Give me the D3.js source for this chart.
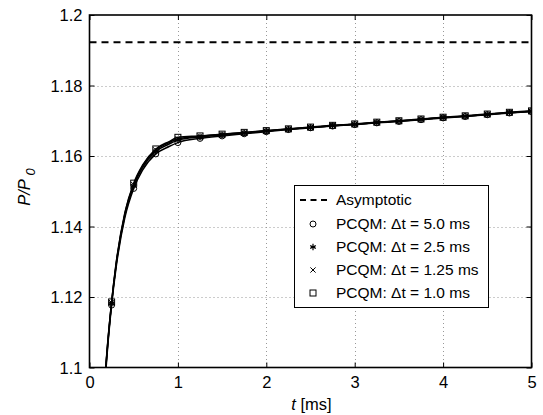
<!DOCTYPE html>
<html><head><meta charset="utf-8">
<script src="https://cdn.jsdelivr.net/npm/d3@7"></script>
<style>body{margin:0;background:#fff;} text{font-family:"Liberation Sans",Arial,sans-serif;}</style>
</head><body>
<svg id="c" width="543" height="415"></svg>
<script>
const tLine = [0,0.1,0.2,0.25,0.3,0.4,0.5,0.6,0.75,0.9,1.0,1.25,1.5,1.75,2,2.25,2.5,2.75,3,3.25,3.5,3.75,4,4.25,4.5,4.75,5];
const pcqm50  = [0.992,1.061,1.1040,1.1177,1.1282,1.1425,1.1508,1.1560,1.1606,1.1627,1.1638,1.1650,1.1657,1.1663,1.1669,1.1675,1.1680,1.1685,1.1689,1.1694,1.1698,1.1703,1.1708,1.1712,1.1717,1.1722,1.1726];
const pcqm25  = [0.995,1.064,1.1047,1.1182,1.1288,1.1432,1.1515,1.1567,1.1613,1.1634,1.1645,1.1654,1.1660,1.1665,1.1671,1.1676,1.1681,1.1686,1.1690,1.1695,1.1699,1.1704,1.1709,1.1713,1.1718,1.1723,1.1727];
const pcqm125 = [0.997,1.066,1.1050,1.1184,1.1291,1.1436,1.1519,1.1571,1.1617,1.1638,1.1649,1.1656,1.1661,1.1666,1.1671,1.1676,1.1681,1.1686,1.1690,1.1695,1.1699,1.1704,1.1709,1.1713,1.1718,1.1723,1.1727];
const pcqm10  = [0.998,1.067,1.1053,1.1186,1.1294,1.1439,1.1523,1.1574,1.1620,1.1641,1.1653,1.1657,1.1662,1.1667,1.1672,1.1677,1.1682,1.1687,1.1691,1.1696,1.1700,1.1705,1.1710,1.1714,1.1719,1.1724,1.1728];
const asymptotic = 1.1923;
const xTicks = [0,1,2,3,4,5];
const yTicks = [1.1,1.12,1.14,1.16,1.18,1.2];
const seriesNames = ["PCQM: \u0394t = 5.0 ms","PCQM: \u0394t = 2.5 ms","PCQM: \u0394t = 1.25 ms","PCQM: \u0394t = 1.0 ms"];
const seriesMarkers = ["circle","asterisk","cross","square"];
const seriesValues = [pcqm50,pcqm25,pcqm125,pcqm10];

const svg = d3.select("#c");
const L=89.5, R=531.5, T=15, B=367.5;
const x = d3.scaleLinear().domain([0,5]).range([L,R]);
const y = d3.scaleLinear().domain([1.1,1.2]).range([B,T]);

svg.append("defs").append("clipPath").attr("id","clip").append("rect")
  .attr("x",L).attr("y",T).attr("width",R-L).attr("height",B-T);

// grid
const grid = svg.append("g").attr("stroke","#999").attr("stroke-width",1).attr("stroke-dasharray","1,3");
xTicks.slice(1,-1).forEach(v=>grid.append("line").attr("x1",Math.round(x(v))+0.5).attr("x2",Math.round(x(v))+0.5).attr("y1",T).attr("y2",B));
yTicks.slice(1,-1).forEach(v=>grid.append("line").attr("y1",Math.round(y(v))+0.5).attr("y2",Math.round(y(v))+0.5).attr("x1",L).attr("x2",R));

// axes
const fs = 16.5;
const xAx = svg.append("g").attr("transform",`translate(0,${B})`)
  .call(d3.axisBottom(x).tickValues(xTicks).tickFormat(d3.format("d")).tickSizeInner(-5).tickSizeOuter(0).tickPadding(8));
const xAxT = svg.append("g").attr("transform",`translate(0,${T})`)
  .call(d3.axisTop(x).tickValues(xTicks).tickFormat("").tickSizeInner(-5).tickSizeOuter(0));
const yAx = svg.append("g").attr("transform",`translate(${L},0)`)
  .call(d3.axisLeft(y).tickValues(yTicks).tickFormat(d=>d3.format("")(+d.toFixed(2))).tickSizeInner(-5).tickSizeOuter(0).tickPadding(7));
const yAxR = svg.append("g").attr("transform",`translate(${R},0)`)
  .call(d3.axisRight(y).tickValues(yTicks).tickFormat("").tickSizeInner(-5).tickSizeOuter(0));
[xAx,xAxT,yAx,yAxR].forEach(g=>{
  g.select(".domain").remove();
  g.selectAll("line").attr("stroke","#000").attr("stroke-width",1);
  g.selectAll("text").attr("fill","#000").style("font-size",fs+"px");
});
yAx.selectAll("text").attr("dy","0.35em");
xAx.selectAll("text").attr("dy","0.75em");

svg.append("rect").attr("x",L).attr("y",T).attr("width",R-L).attr("height",B-T)
  .attr("fill","none").attr("stroke","#000").attr("stroke-width",1.6);

// asymptote
svg.append("line").attr("x1",L).attr("x2",R).attr("y1",y(asymptotic)).attr("y2",y(asymptotic))
  .attr("stroke","#000").attr("stroke-width",2).attr("stroke-dasharray","7,5");

// series
const plot = svg.append("g").attr("clip-path","url(#clip)");
const line = d3.line().x(d=>x(d[0])).y(d=>y(d[1])).curve(d3.curveMonotoneX);

function marker(g, type, cx, cy){
  if(type==="circle") g.append("circle").attr("cx",cx).attr("cy",cy).attr("r",3).attr("fill","none").attr("stroke","#000").attr("stroke-width",1);
  else if(type==="square") g.append("rect").attr("x",cx-3).attr("y",cy-3).attr("width",6).attr("height",6).attr("fill","none").attr("stroke","#000").attr("stroke-width",1);
  else if(type==="cross"){
    const s=2.6;
    g.append("path").attr("d",`M${cx-s},${cy-s}L${cx+s},${cy+s}M${cx-s},${cy+s}L${cx+s},${cy-s}`).attr("stroke","#000").attr("stroke-width",1);
  } else {
    const s=3.2, h=s*0.7;
    g.append("path").attr("d",`M${cx},${cy-s}L${cx},${cy+s}M${cx-s*0.87},${cy-s/2}L${cx+s*0.87},${cy+s/2}M${cx-s*0.87},${cy+s/2}L${cx+s*0.87},${cy-s/2}M${cx-h},${cy}L${cx+h},${cy}`).attr("stroke","#000").attr("stroke-width",1.2);
  }
}

seriesValues.forEach((vals,i)=>{
  const pts = tLine.map((t,j)=>[t,vals[j]]);
  plot.append("path").datum(pts).attr("d",line).attr("fill","none").attr("stroke","#000").attr("stroke-width",1.5);
  const mg = plot.append("g");
  pts.filter(p=>Math.abs(p[0]*4-Math.round(p[0]*4))<1e-9 && p[0]>0).forEach(p=>marker(mg,seriesMarkers[i],x(p[0]),y(p[1])));
});

// labels
svg.append("text").attr("x",(L+R)/2+1).attr("y",410).attr("text-anchor","middle").style("font-size",fs+"px")
  .html('<tspan font-style="italic">t</tspan> [ms]');
const yl = svg.append("text").attr("transform","translate(30,187) rotate(-90)").attr("text-anchor","middle").style("font-size",fs+"px");
yl.append("tspan").attr("font-style","italic").text("P/P");
yl.append("tspan").attr("font-style","italic").attr("dy",5).style("font-size","13px").text(" 0");

// legend
const lg = svg.append("g");
lg.append("rect").attr("x",294.5).attr("y",185.5).attr("width",194).attr("height",122)
  .attr("fill","#fff").attr("stroke","#000").attr("stroke-width",1);
const rows = [200,224,247,270,293];
lg.append("line").attr("x1",300).attr("x2",331).attr("y1",rows[0]).attr("y2",rows[0])
  .attr("stroke","#000").attr("stroke-width",2).attr("stroke-dasharray","6,4.5");
lg.append("text").attr("x",336).attr("y",rows[0]).attr("dy","0.35em").style("font-size","15.5px").text("Asymptotic");
seriesNames.forEach((n,i)=>{
  marker(lg,seriesMarkers[i],313,rows[i+1]);
  lg.append("text").attr("x",336).attr("y",rows[i+1]).attr("dy","0.35em").style("font-size","15.5px").text(n);
});
</script>
</body></html>
